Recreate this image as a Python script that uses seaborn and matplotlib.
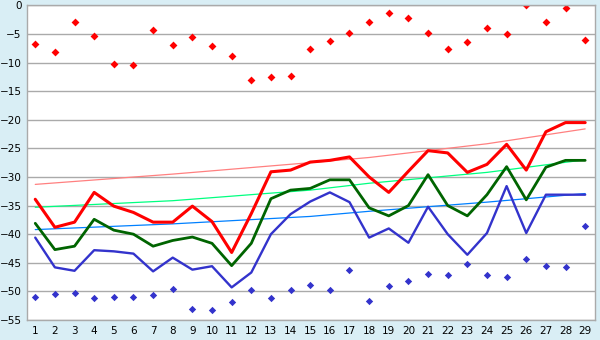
import numpy as np
import pandas as pd
import seaborn as sns
import matplotlib
matplotlib.use("Agg")
import matplotlib.pyplot as plt

# x positions 1..29
x = list(range(1, 30))

# main lines
red_line = [-33.9, -38.8, -37.9, -32.7, -35.1, -36.2, -37.9, -37.9, -35.1, -37.8,
            -43.2, -36.4, -29.1, -28.8, -27.4, -27.1, -26.5, -30.0, -32.7, -29.0,
            -25.4, -25.8, -29.2, -27.8, -24.3, -28.8, -22.1, -20.5, -20.5]
green_line = [-38.1, -42.7, -42.1, -37.4, -39.3, -40.0, -42.1, -41.1, -40.5, -41.6,
              -45.5, -41.6, -33.8, -32.3, -32.0, -30.5, -30.5, -35.4, -36.8, -35.0,
              -29.6, -35.0, -36.8, -33.1, -28.2, -34.0, -28.3, -27.1, -27.1]
blue_line = [-40.6, -45.8, -46.4, -42.8, -43.0, -43.4, -46.5, -44.1, -46.2, -45.6,
             -49.3, -46.7, -40.0, -36.5, -34.3, -32.7, -34.4, -40.6, -39.0, -41.5,
             -35.2, -40.0, -43.6, -39.8, -31.6, -39.8, -33.1, -33.1, -33.1]

# scatter points
red_pts = [-6.7, -8.1, -3.0, -5.3, -10.2, -10.4, -4.4, -7.0, -5.5, -7.1,
           -8.8, -13.1, -12.6, -12.4, -7.7, -6.3, -4.9, -3.0, -1.4, -2.2,
           -4.9, -7.7, -6.5, -3.9, -5.1, 0.0, -3.0, -0.4, -6.1]
blue_pts = [-50.9, -50.5, -50.2, -51.2, -50.9, -50.9, -50.7, -49.5, -53.1, -53.3,
            -51.9, -49.8, -51.2, -49.7, -48.8, -49.8, -46.3, -51.7, -49.0, -48.1,
            -47.0, -47.2, -45.3, -47.2, -47.4, -44.4, -45.6, -45.8, -38.5]

# trend lines (read at a few x positions)
trend_x = [1, 8, 15, 18, 24, 29]
red_trend = [-31.3, -29.5, -27.5, -26.6, -24.2, -21.6]
green_trend = [-35.3, -34.15, -32.3, -31.1, -29.2, -27.0]
blue_trend = [-39.2, -38.2, -36.9, -36.0, -34.4, -32.9]

bg = "#D9EEF5"
grid_c = "#AAAAAA"

sns.set_style("white")
plt.rcParams["font.family"] = ["DejaVu Sans"]

fig = plt.figure(figsize=(6, 3.4), dpi=100, facecolor=bg)
ax = fig.add_axes([27 / 600, 20 / 340, 568 / 600, 314.7 / 340])
ax.set_facecolor("white")

trends = pd.DataFrame({"x": trend_x * 3,
                       "y": red_trend + green_trend + blue_trend,
                       "s": ["r"] * 6 + ["g"] * 6 + ["b"] * 6})
sns.lineplot(data=trends, x="x", y="y", hue="s",
             palette={"r": "#FF8080", "g": "#00FF80", "b": "#0080FF"},
             linewidth=0.9, legend=False, ax=ax)

lines = pd.DataFrame({"x": x * 3,
                      "y": blue_line + green_line + red_line,
                      "s": ["b"] * 29 + ["g"] * 29 + ["r"] * 29})
for s, c, lw in [("b", "#3333CC", 1.7), ("g", "#006400", 2.0), ("r", "#FF0000", 2.2)]:
    sns.lineplot(data=lines[lines["s"] == s], x="x", y="y", color=c,
                 linewidth=lw, ax=ax)

sns.scatterplot(x=x, y=red_pts, color="#FF0000", marker="D", s=16,
                linewidth=0, ax=ax)
sns.scatterplot(x=x, y=blue_pts, color="#3333CC", marker="D", s=14,
                linewidth=0, ax=ax)

ax.set_xlim(0.58, 29.5)
ax.set_ylim(-55, 0)
ax.set_xticks(x)
ax.set_yticks(range(-55, 1, 5))
ax.yaxis.grid(True, color=grid_c, linewidth=1)
ax.set_axisbelow(True)
ax.set_xlabel("")
ax.set_ylabel("")
for sp in ax.spines.values():
    sp.set_color(grid_c)
    sp.set_linewidth(1)
ax.tick_params(axis="both", labelsize=7.5, colors="black", length=2.5,
               width=1, pad=1.5)
ax.tick_params(axis="both", color=grid_c)
ax.tick_params(axis="x", color="black")

fig.savefig("out.png", dpi=100, facecolor=bg)
